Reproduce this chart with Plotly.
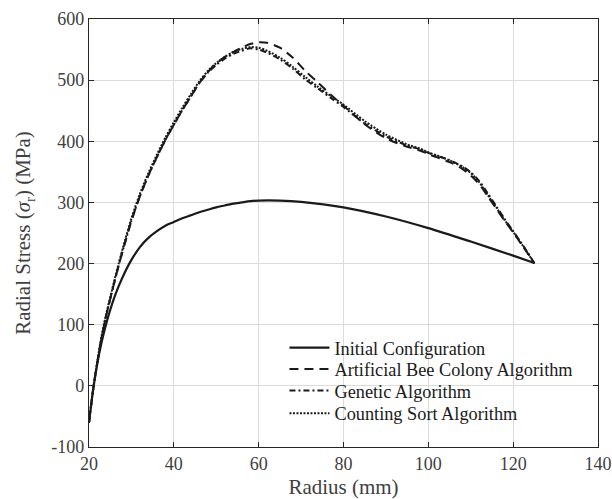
import plotly.graph_objects as go

# ---- data ----
x_init = [20, 21, 22, 23, 24, 25, 26, 27, 28, 30, 32, 34, 36, 38, 40, 42, 44, 46, 48, 50, 52, 54, 56, 58, 60, 65, 70, 80, 90, 100, 110, 120, 125]
y_init = [-60, -5, 38, 72, 100, 124, 145, 163, 179, 206, 227, 242, 253, 262, 268, 274, 279, 284, 288, 292, 295, 298, 300, 302, 303, 303, 301, 292, 277, 258, 236, 213, 201]

x_opt = [20, 21, 22, 23, 24, 25, 26, 27, 28, 30, 32, 34, 36, 38, 40, 42, 44, 46, 48, 50, 52, 54, 56, 58, 60, 62, 65, 68, 71, 74, 77, 80,
         85, 90, 95, 98, 100, 105, 108, 110, 112, 114, 116, 118, 120, 122, 124, 125]
y_abc = [-60, -5, 40, 80, 113, 142, 170, 197, 222, 270, 310, 344, 374, 402, 427, 451, 473, 495, 513, 527, 538, 546, 553, 559, 562, 561, 553, 537, 515, 496, 476, 458,
         428, 405, 391, 385, 379, 366, 355, 344, 330, 310, 290, 270, 251, 231, 211, 200]
y_ga = [-60, -5, 40, 80, 113, 142, 170, 197, 222, 270, 310, 344, 374, 402, 427, 451, 473, 495, 512, 525, 535, 543, 548, 552, 550, 545, 534, 519, 501, 486, 471, 456,
        429, 408, 393, 387, 381, 369, 359, 349, 335, 315, 294, 273, 253, 233, 212, 200]
y_csa = [-60, -4, 42, 83, 116, 145, 173, 200, 226, 274, 314, 348, 378, 406, 431, 455, 477, 498, 515, 528, 538, 546, 551, 554, 553, 548, 537, 522, 505, 489, 474, 460,
         433, 411, 395, 388, 382, 369, 358, 348, 333, 312, 292, 271, 252, 232, 211, 200]

names = ["Initial Configuration", "Artificial Bee Colony Algorithm", "Genetic Algorithm", "Counting Sort Algorithm"]

x_ticks = [20, 40, 60, 80, 100, 120, 140]
x_ticktext = ["20", "40", "60", "80", "100", "120", "140"]
y_ticks = [-100, 0, 100, 200, 300, 400, 500, 600]
y_ticktext = ["-100", "0", "100", "200", "300", "400", "500", "600"]

LINE = "#1a1a1a"
FONT = "Liberation Serif, Times New Roman, serif"

styles = [
    dict(width=2.2),
    dict(width=2, dash="9px,6px"),
    dict(width=2, dash="6px,3px,2px,3px"),
    dict(width=2, dash="2px,1.5px"),
]
xs = [x_init, x_opt, x_opt, x_opt]
ys = [y_init, y_abc, y_ga, y_csa]
legend_ids = ["legend", "legend2", "legend3", "legend4"]

fig = go.Figure()
for i in range(4):
    fig.add_trace(go.Scatter(x=xs[i], y=ys[i], mode="lines", name=names[i], legend=legend_ids[i],
                             line=dict(color=LINE, shape="spline", smoothing=0.8, **styles[i])))

axis_common = dict(
    showline=True, linecolor="#262626", linewidth=1.2, mirror="ticks",
    ticks="inside", ticklen=5, tickcolor="#262626", tickwidth=1.2,
    showgrid=True, gridcolor="#dcdcdc", gridwidth=1, zeroline=False,
    tickfont=dict(family=FONT, size=18, color="#404040"), automargin=False,
)

legend_rows_y = [0.232, 0.182, 0.1315, 0.0787]
leg_common = dict(x=0.384, xanchor="left", yanchor="middle", bgcolor="rgba(0,0,0,0)", borderwidth=0,
                  font=dict(family=FONT, size=18.3, color="#1a1a1a"), itemwidth=40)

fig.update_layout(
    width=612, height=499,
    margin=dict(l=89, r=14, t=19, b=52),
    paper_bgcolor="white", plot_bgcolor="white",
    font=dict(family=FONT, color="#404040"),
    xaxis=dict(range=[20, 140], tickvals=x_ticks, ticktext=x_ticktext, **axis_common,
               title=dict(text="Radius (mm)", font=dict(family=FONT, size=21, color="#404040"), standoff=6)),
    yaxis=dict(range=[-100, 600], tickvals=y_ticks, ticktext=y_ticktext, **axis_common,
               title=dict(text="Radial Stress (<i>σ</i><sub>r</sub>) (MPa)", font=dict(family=FONT, size=21, color="#404040"), standoff=14)),
    legend=dict(y=legend_rows_y[0], **leg_common),
    legend2=dict(y=legend_rows_y[1], **leg_common),
    legend3=dict(y=legend_rows_y[2], **leg_common),
    legend4=dict(y=legend_rows_y[3], **leg_common),
    shapes=[dict(type="rect", xref="paper", yref="paper", x0=0.381, x1=0.985, y0=0.04, y1=0.277,
                 fillcolor="white", line=dict(width=0), layer="between")],
    showlegend=True,
)

fig.write_html("out.html")
